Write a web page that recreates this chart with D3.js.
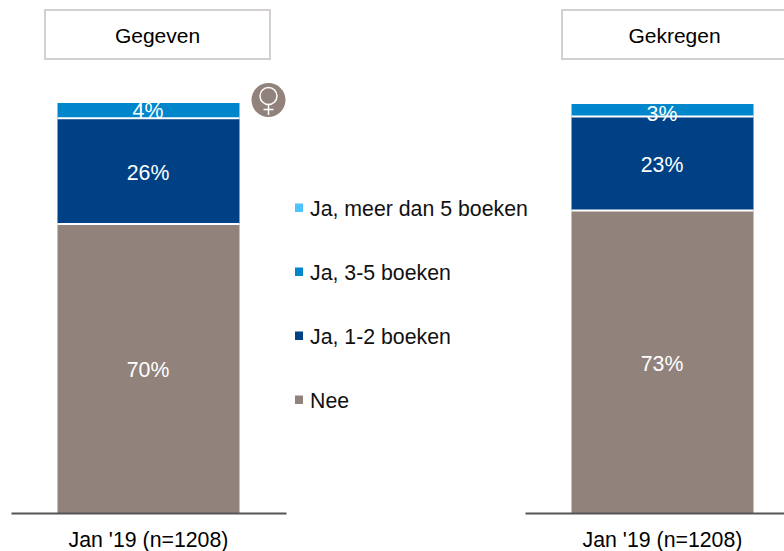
<!DOCTYPE html>
<html>
<head>
<meta charset="utf-8">
<script src="https://cdn.jsdelivr.net/npm/d3@7"></script>
<style>
  html, body { margin: 0; padding: 0; background: #fff; overflow: hidden; }
  text { font-family: "Liberation Sans", Arial, sans-serif; }
</style>
</head>
<body>
<div id="chart"></div>
<script>
// values, bottom segment first
const panels = ["Gegeven", "Gekregen"];
const periods = ["Jan '19 (n=1208)"];
const seriesNames = ["Nee", "Ja, 1-2 boeken", "Ja, 3-5 boeken", "Ja, meer dan 5 boeken"];
const seriesColors = ["#91827c", "#004185", "#0087cb", "#4dc3ff"];
const gegevenValues = [70.5, 25.8, 3.7, 0];
const gegevenLabels = ["70%", "26%", "4%", ""];
const gekregenValues = [73.8, 22.9, 3.05, 0];
const gekregenLabels = ["73%", "23%", "3%", ""];

const width = 784;
const height = 551;
const baseline = 513;
const chartTop = 103;

const svg = d3.select("#chart").append("svg")
  .attr("width", width)
  .attr("height", height)
  .style("display", "block");

const y = d3.scaleLinear().domain([0, 100]).range([baseline, chartTop]);
const color = d3.scaleOrdinal().domain(seriesNames).range(seriesColors);

function drawPanel(title, values, labels, axisRange, box, topShift) {
  const x = d3.scaleBand().domain(periods).range(axisRange).padding(0.2035);
  const g = svg.append("g");

  // title box
  g.append("rect")
    .attr("x", box[0])
    .attr("y", 10)
    .attr("width", box[1])
    .attr("height", 49)
    .attr("fill", "#fff")
    .attr("stroke", "#d5d0d0")
    .attr("stroke-width", 2);
  g.append("text")
    .attr("x", box[2])
    .attr("y", 43)
    .attr("text-anchor", "middle")
    .attr("font-size", 21)
    .attr("fill", "#000")
    .text(title);

  let sum = 0;
  const segs = values.map((v, i) => {
    const d = { name: seriesNames[i], label: labels[i], v, y0: sum, y1: sum + v, top: i === 2 };
    sum += v;
    return d;
  }).filter(d => d.v > 0);

  g.selectAll("rect.seg")
    .data(segs)
    .enter()
    .append("rect")
    .attr("class", "seg")
    .attr("x", x(periods[0]))
    .attr("width", x.bandwidth())
    .attr("y", d => y(d.y1))
    .attr("height", d => y(d.y0) - y(d.y1))
    .attr("fill", d => color(d.name));

  // white separators between the segments
  g.selectAll("line.sep")
    .data(segs.slice(1))
    .enter()
    .append("line")
    .attr("class", "sep")
    .attr("x1", x(periods[0]))
    .attr("x2", x(periods[0]) + x.bandwidth())
    .attr("y1", d => y(d.y0))
    .attr("y2", d => y(d.y0))
    .attr("stroke", "#fff")
    .attr("stroke-width", 2);

  g.selectAll("text.val")
    .data(segs)
    .enter()
    .append("text")
    .attr("class", "val")
    .attr("x", x(periods[0]) + x.bandwidth() / 2 - 0.5)
    .attr("y", d => y((d.y0 + d.y1) / 2) + (d.top ? topShift : 1.5))
    .attr("dy", "0.35em")
    .attr("text-anchor", "middle")
    .attr("font-size", 21.3)
    .attr("fill", "#fff")
    .text(d => d.label);

  const axis = g.append("g")
    .attr("transform", `translate(0,${baseline})`)
    .call(d3.axisBottom(x).tickSize(0).tickPadding(19));
  axis.select(".domain").attr("stroke", "#555").attr("stroke-width", 2);
  axis.selectAll("text")
    .attr("font-size", 21.3)
    .attr("fill", "#000")
    .style("font-family", '"Liberation Sans", Arial, sans-serif');
}

drawPanel(panels[0], gegevenValues, gegevenLabels, [11, 286], [45, 225, 157.5], 0);
drawPanel(panels[1], gekregenValues, gekregenLabels, [525, 800], [562, 240, 674.5], 3.5);

// legend
const legendY = d3.scalePoint()
  .domain(seriesNames.slice().reverse())
  .range([208, 400]);

const legend = svg.selectAll("g.legend")
  .data(seriesNames)
  .enter()
  .append("g")
  .attr("class", "legend")
  .attr("transform", d => `translate(295,${legendY(d)})`);

legend.append("rect")
  .attr("y", -4.5)
  .attr("width", 8)
  .attr("height", 8.5)
  .attr("fill", d => color(d));

legend.append("text")
  .attr("x", 15)
  .attr("y", 0.5)
  .attr("dy", "0.35em")
  .attr("font-size", 21.3)
  .attr("fill", "#111")
  .text(d => d);

// venus badge
const badge = svg.append("g").attr("transform", "translate(268.5,100)");
badge.append("circle").attr("r", 17).attr("fill", "#91827c");
badge.append("circle")
  .attr("cy", -4)
  .attr("r", 8.5)
  .attr("fill", "none")
  .attr("stroke", "#fff")
  .attr("stroke-width", 1.5);
badge.append("line")
  .attr("y1", 4.5).attr("y2", 15)
  .attr("stroke", "#fff").attr("stroke-width", 1.5);
badge.append("line")
  .attr("x1", -5).attr("x2", 5)
  .attr("y1", 9.5).attr("y2", 9.5)
  .attr("stroke", "#fff").attr("stroke-width", 1.5);
</script>
</body>
</html>
